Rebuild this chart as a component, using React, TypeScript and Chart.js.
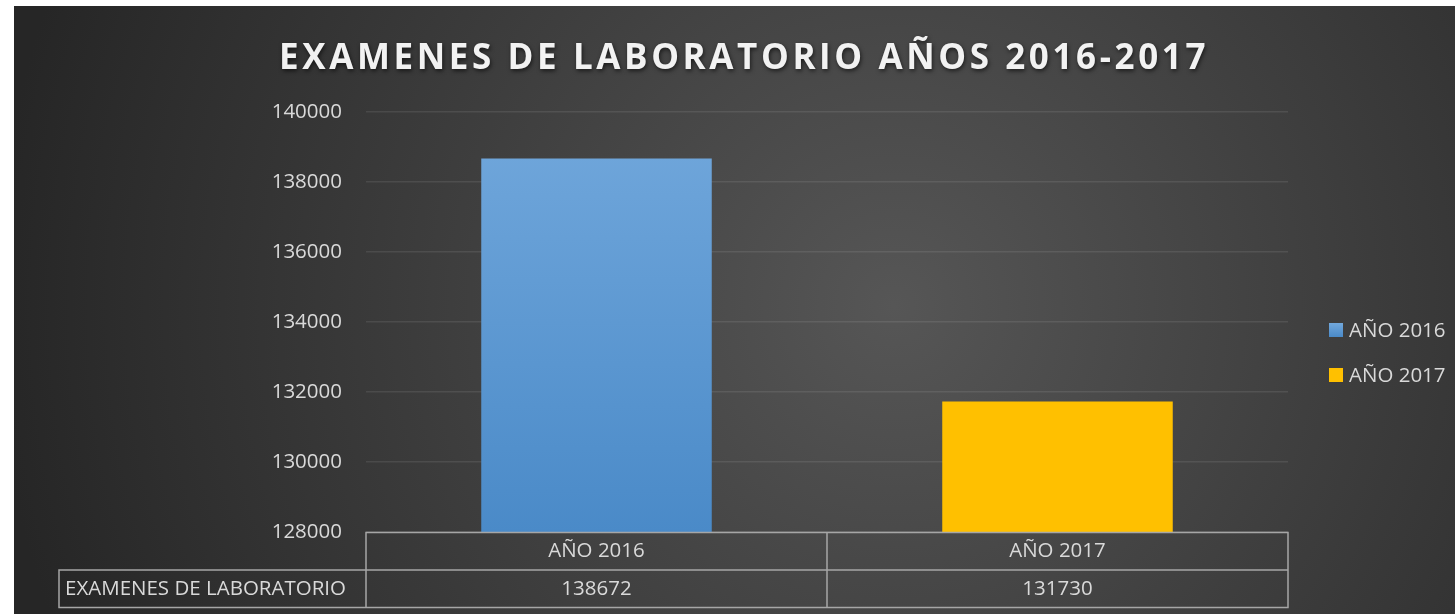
import React, { useEffect, useRef } from "react";
import { Chart, registerables } from "chart.js";

Chart.register(...registerables);

const TITLE = "EXAMENES DE LABORATORIO AÑOS 2016-2017";
const categories = ["AÑO 2016", "AÑO 2017"];
const seriesName = "EXAMENES DE LABORATORIO";
const values = [138672, 131730];
const barColors = ["#5b9bd5", "#ffc000"];
const yMin = 128000;
const yMax = 140000;
const yStep = 2000;

const FONT = "'Open Sans', 'Noto Sans', sans-serif";
const W = 1441;
const H = 608;
const TXT = 20.5;

const bgPlugin = {
  id: "bg",
  beforeDraw(chart: any) {
    const { ctx } = chart;
    ctx.save();
    const g = ctx.createRadialGradient(880, 300, 0, 880, 300, 900);
    g.addColorStop(0, "#565656");
    g.addColorStop(0.45, "#404040");
    g.addColorStop(1, "#262626");
    ctx.fillStyle = g;
    ctx.fillRect(0, 0, W, H);
    ctx.restore();
  },
};

const tablePlugin = {
  id: "tableAndExtras",
  afterDraw(chart: any) {
    const { ctx, chartArea } = chart;
    const x = chart.scales.x;
    const left = chartArea.left;
    const right = chartArea.right;
    const top = chartArea.bottom + 0.5;
    const rowH = 37.5;
    const labelLeft = 45;
    ctx.save();
    // title
    ctx.save();
    ctx.font = `bold 35px ${FONT}`;
    (ctx as any).letterSpacing = "3.6px";
    ctx.fillStyle = "#f2f2f2";
    ctx.textAlign = "center";
    ctx.textBaseline = "middle";
    ctx.shadowColor = "rgba(0,0,0,0.6)";
    ctx.shadowBlur = 4;
    ctx.shadowOffsetX = 1;
    ctx.shadowOffsetY = 2;
    ctx.fillText(TITLE, 730, 53);
    ctx.restore();

    // table lines
    ctx.strokeStyle = "#a6a6a6";
    ctx.lineWidth = 1.5;
    ctx.beginPath();
    ctx.moveTo(left, top + 2 * rowH);
    ctx.lineTo(left, top);
    ctx.lineTo(right, top);
    ctx.lineTo(right, top + 2 * rowH);
    ctx.lineTo(labelLeft, top + 2 * rowH);
    ctx.lineTo(labelLeft, top + rowH);
    ctx.lineTo(right, top + rowH);
    const mid = (x.getPixelForValue(0) + x.getPixelForValue(1)) / 2;
    ctx.moveTo(mid, top);
    ctx.lineTo(mid, top + 2 * rowH);
    ctx.stroke();

    ctx.fillStyle = "#d9d9d9";
    ctx.font = `${TXT}px ${FONT}`;
    ctx.textBaseline = "middle";
    ctx.textAlign = "center";
    categories.forEach((c, i) => {
      const cx = x.getPixelForValue(i);
      ctx.fillText(c, cx, top + rowH / 2);
      ctx.fillText(String(values[i]), cx, top + rowH * 1.5);
    });
    ctx.textAlign = "left";
    ctx.fillText(seriesName, labelLeft + 6, top + rowH * 1.5);

    // legend
    const lx = 1315;
    const ly = [324, 369];
    categories.forEach((c, i) => {
      ctx.fillStyle = barColors[i];
      if (i === 0) {
        const g = ctx.createLinearGradient(0, ly[i] - 7, 0, ly[i] + 7);
        g.addColorStop(0, "#72a8dc");
        g.addColorStop(1, "#4a8ac8");
        ctx.fillStyle = g;
      }
      ctx.fillRect(lx, ly[i] - 7, 14, 14);
      ctx.fillStyle = "#d9d9d9";
      ctx.font = `${TXT}px ${FONT}`;
      ctx.textAlign = "left";
      ctx.fillText(c, lx + 20, ly[i] + 1);
    });
    ctx.restore();
  },
};

export default function App() {
  const ref = useRef<HTMLCanvasElement | null>(null);
  useEffect(() => {
    if (!ref.current) return;
    const chart = new Chart(ref.current, {
      type: "bar",
      data: {
        labels: categories,
        datasets: [
          {
            label: seriesName,
            data: values,
            backgroundColor: (c: any) => {
              const ch = c.chart;
              const area = ch.chartArea;
              if (c.dataIndex === 0 && area) {
                const g = ch.ctx.createLinearGradient(0, area.top, 0, area.bottom);
                g.addColorStop(0, "#72a8dc");
                g.addColorStop(1, "#4a8ac8");
                return g;
              }
              return barColors[c.dataIndex];
            },
            borderWidth: 0,
            categoryPercentage: 1,
            barPercentage: 0.5,
          },
        ],
      },
      options: {
        responsive: false,
        animation: false,
        layout: { padding: { left: 0, right: 167, top: 106, bottom: 82 } },
        plugins: { legend: { display: false }, title: { display: false }, tooltip: { enabled: false } },
        scales: {
          x: { display: false },
          y: {
            min: yMin,
            max: yMax,
            afterFit: (s: any) => {
              s.width = 352;
            },
            ticks: {
              stepSize: yStep,
              padding: 24,
              color: "#d9d9d9",
              font: { family: FONT, size: TXT },
              callback: (v: any) => String(v),
            },
            grid: { color: "rgba(255,255,255,0.09)", lineWidth: 1.5, drawTicks: false },
            border: { display: false },
          },
        },
      },
      plugins: [bgPlugin, tablePlugin],
    });
    return () => chart.destroy();
  }, []);
  return (
    <div style={{ position: "absolute", left: 14, top: 6, width: W, height: H }}>
      <canvas ref={ref} width={W} height={H} style={{ width: W, height: H, display: "block" }} />
    </div>
  );
}
